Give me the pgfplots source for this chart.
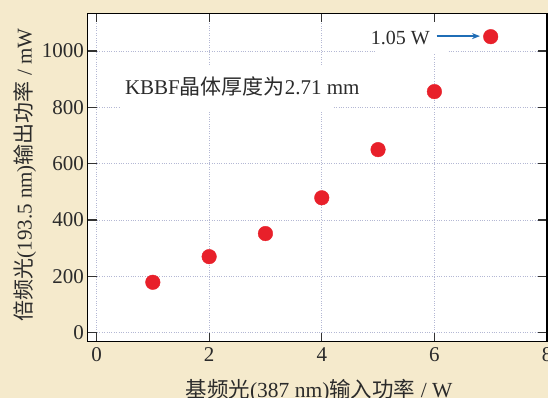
\documentclass[border=0pt]{standalone}
\usepackage{fontspec}
\setmainfont{Liberation Serif}
\newfontfamily\cjk{Noto Sans CJK SC}
\usepackage{pgfplots}
\pgfplotsset{compat=1.18}
\usetikzlibrary{arrows.meta}
\definecolor{bg}{HTML}{F5EACC}
\definecolor{gridc}{HTML}{B4B8D4}
\definecolor{dotred}{HTML}{E8202A}
\definecolor{arrowblue}{HTML}{1F6DB6}
\definecolor{txt}{HTML}{2B2B2B}
\begin{document}
\begin{tikzpicture}
\path[use as bounding box] (0,0) rectangle (548bp,398bp);
\clip (0,0) rectangle (548bp,398bp);
\fill[bg] (0,0) rectangle (548bp,398bp);
\begin{axis}[
  at={(87.5bp,56.3bp)}, anchor=south west,
  scale only axis, width=459.5bp, height=328.4bp,
  xmin=-0.16, xmax=8, ymin=-32, ymax=1134,
  xtick={0,2,4,6,8}, ytick={0,200,400,600,800,1000},
  grid=major, major grid style={gridc, dotted, line width=0.8bp},
  axis background/.style={fill=white},
  axis line style={black, line width=1.3bp},
  major tick length=9bp,
  tick style={black!80, line width=1.2bp},
  ticklabel style={font=\fontsize{21bp}{24bp}\selectfont, text=txt},
  /pgf/number format/assume math mode=true,
  /pgf/number format/1000 sep={},
  xticklabel style={yshift=-2.7bp},
]
\fill[white] (axis cs:0.415,790) rectangle (axis cs:4.2,950);
\fill[white] (axis cs:4.94,990) rectangle (axis cs:6.24,1100);
\addplot[only marks, mark=*, mark size=7.3bp, color=dotred, mark options={fill=dotred, draw=dotred}]
  coordinates {(1,179) (2,270) (3,352) (4,479) (5,650) (6,856) (7,1051)};
\node[anchor=base west, inner sep=0pt, text=txt, font=\fontsize{21bp}{24bp}\selectfont] at (axis cs:0.503,844) {KBBF{\cjk 晶体厚度为}2.71 mm};
\node[anchor=east, inner sep=0pt, text=txt, font=\fontsize{20bp}{24bp}\selectfont] at (axis cs:5.92,1045) {1.05 W};
\draw[arrowblue, line width=1.3bp, -{Stealth[length=8bp,width=6bp]}] (axis cs:6.04,1053) -- (axis cs:6.81,1053);
\end{axis}
\node[anchor=base, inner sep=0pt, text=txt, font=\fontsize{21.5bp}{25bp}\selectfont] at (319bp,0.5bp) {{\cjk 基频光}(387 nm){\cjk 输入功率} / W};
\node[anchor=base, rotate=90, inner sep=0pt, text=txt, font=\fontsize{21bp}{25bp}\selectfont] at (31.5bp,223bp) {{\cjk 倍频光}(193.5 nm){\cjk 输出功率} / mW};
\end{tikzpicture}
\end{document}
